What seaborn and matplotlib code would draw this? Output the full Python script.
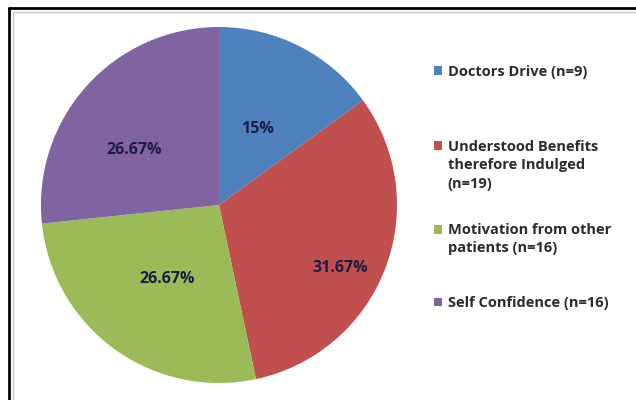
import matplotlib
matplotlib.use('Agg')
import matplotlib.pyplot as plt
import matplotlib.patches as mpatches
from matplotlib.legend_handler import HandlerPatch
import seaborn as sns
import numpy as np

# data
categories = ['Doctors Drive (n=9)',
              'Understood Benefits\ntherefore Indulged\n(n=19)',
              'Motivation from other\npatients (n=16)',
              'Self Confidence (n=16)']
counts = [9, 19, 16, 16]
colors = ['#4F81BD', '#C0504D', '#9BBB59', '#8064A2']

# label placement (radius fraction, angle nudge in degrees) like Excel "best fit"
label_dist = [0.48, 0.77, 0.51, 0.57]
label_nudge = [0, -6.5, 1, 9]
legend_top = [0.838, 0.651, 0.443, 0.259]

sns.set_theme(style='white')
plt.rcParams['font.family'] = ['Open Sans', 'DejaVu Sans']

fig = plt.figure(figsize=(6.36, 4.0), dpi=100)
fig.patch.set_facecolor('white')

# frame like the cropped screenshot
fig.add_artist(plt.Line2D([0.014, 1.0], [0.979, 0.979], transform=fig.transFigure, color='black', lw=2))
fig.add_artist(plt.Line2D([0.014, 0.014], [0.0, 0.979], transform=fig.transFigure, color='black', lw=2))
fig.add_artist(plt.Line2D([0.020, 1.0], [0.97, 0.97], transform=fig.transFigure, color='#c8c8c8', lw=1))
fig.add_artist(plt.Line2D([0.020, 0.020], [0.0, 0.97], transform=fig.transFigure, color='#c8c8c8', lw=1))

ax = fig.add_axes([0.0644, 0.0425, 0.5598, 0.89])
total = sum(counts)
wedges, texts = ax.pie(counts, colors=colors, startangle=90, counterclock=False,
                       wedgeprops=dict(linewidth=0))

for w, c, d, nd in zip(wedges, counts, label_dist, label_nudge):
    ang = np.deg2rad((w.theta1 + w.theta2) / 2 + nd)
    pct = ('%.2f' % (100 * c / total)).rstrip('0').rstrip('.') + '%'
    ax.text(d * np.cos(ang), d * np.sin(ang), pct, ha='center', va='center',
            fontsize=11.5, fontweight='bold', color='#1c1c45')
ax.set_xlim(-1, 1)
ax.set_ylim(-1, 1)
ax.set_aspect('auto')
ax.axis('off')


def top_square(nlines):
    # put the square next to the first text line, not the middle one
    def f(legend, orig_handle, xdescent, ydescent, width, height, fontsize):
        shift = (nlines - 1) / 2 * 14.4
        return mpatches.Rectangle((-xdescent, -ydescent + shift), width, height)
    return f


fs = 10.5
for lab, col, top in zip(categories, colors, legend_top):
    h = mpatches.Patch(facecolor=col, edgecolor='none')
    n = lab.count('\n') + 1
    leg = fig.legend([h], [lab], loc='upper left', bbox_to_anchor=(0.683, top),
                     frameon=False, handlelength=0.5, handleheight=0.5,
                     handletextpad=0.4, borderpad=0, borderaxespad=0,
                     prop={'weight': 'bold', 'size': fs},
                     handler_map={h: HandlerPatch(patch_func=top_square(n))})
    for t in leg.get_texts():
        t.set_color('#2b2b2b')
        t.set_linespacing(1.42)

fig.savefig('out.png', dpi=100)
